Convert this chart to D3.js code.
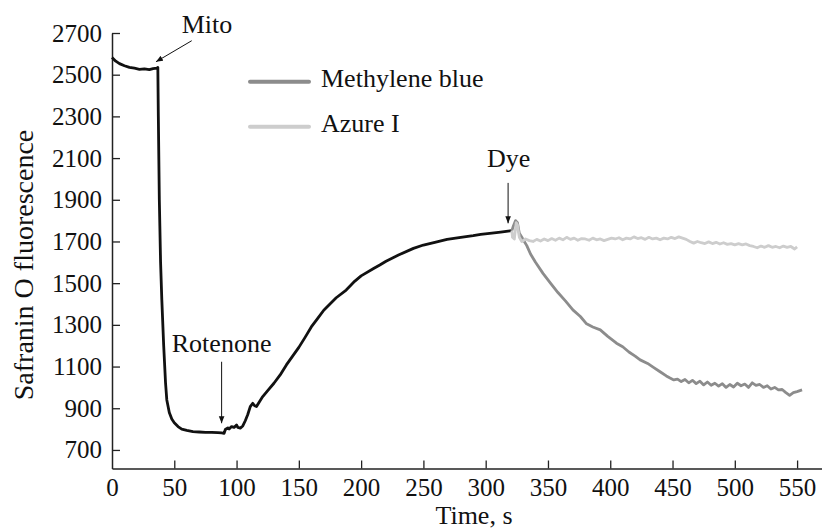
<!DOCTYPE html>
<html>
<head>
<meta charset="utf-8">
<title>Safranin O fluorescence</title>
<script src="https://cdn.jsdelivr.net/npm/d3@7"></script>
<style>
    body{margin:0;background:#fff;}
    svg{display:block;font-family:"Liberation Serif","Times New Roman",serif;}
</style>
</head>
<body>
<svg id="chart" width="822" height="531"></svg>
<script>
// control trace (before dye)
var ctrlTime = [0,3,6,10,14,18,22,26,30,33,36,36.8,37.2,38,39,40,41.5,43,44,46,48,50,53,56,60,65,70,75,80,85,88,90,91,93,94,96,98,100,101,103,105,107,109,111,113,114.5,116,118,121,125,130,135,140,145,150,155,160,165,170,175,180,188,195,200,210,215,220,230,242,250,260,269,280,290,296,305,312,318,321];
var ctrlValue = [2583,2565,2553,2543,2535,2531,2526,2528,2524,2529,2531,2535,2300,1900,1600,1420,1200,1020,940,880,848,830,812,800,794,788,786,784,784,783,782,780,798,806,800,812,808,820,808,805,815,840,870,908,924,912,908,928,956,985,1020,1060,1108,1150,1192,1240,1290,1330,1370,1400,1430,1467,1510,1535,1570,1587,1605,1635,1667,1683,1697,1710,1720,1728,1734,1740,1745,1750,1752];

// methylene blue
var mbTime = [321,322,324,325.5,327,329,331,333,336,340,346,352,358,364,370,376,381,386,392,398,405,410,415,420,424,430,435,440,445,448,451,454,457,460,463,466,469,472,475,478,481,484,487,490,493,496,499,502,505,508,511,514,517,520,523,526,529,532,535,538,541,544,547,550,554];
var mbValue = [1752,1770,1800,1790,1740,1720,1700,1680,1640,1600,1547,1500,1455,1415,1372,1340,1305,1290,1276,1245,1212,1195,1170,1150,1132,1115,1095,1075,1055,1045,1036,1040,1028,1038,1022,1034,1018,1030,1012,1026,1010,1020,1006,1018,1000,1014,1002,1020,1008,1016,1000,1022,1010,1014,1000,1008,992,1000,988,990,975,962,975,980,988];

// azure I
var azTime = [321,321.5,323,324.5,325.5,327,329,332,335,338,341,344,347,350,353,356,359,362,365,368,371,374,377,380,383,386,389,392,395,398,401,404,407,410,413,416,419,422,425,428,431,434,437,440,443,446,449,452,455,458,461,464,467,470,473,476,479,482,485,488,491,494,497,500,503,506,509,512,515,518,521,524,527,530,533,536,539,542,545,548,550];
var azValue = [1752,1720,1712,1790,1780,1720,1700,1712,1704,1700,1710,1702,1712,1704,1714,1706,1716,1708,1720,1710,1716,1706,1714,1712,1706,1716,1708,1712,1704,1710,1716,1712,1718,1708,1716,1712,1722,1714,1718,1710,1720,1712,1716,1708,1716,1712,1720,1714,1722,1716,1710,1700,1692,1700,1694,1690,1698,1690,1696,1688,1694,1686,1690,1684,1690,1684,1688,1680,1676,1670,1678,1672,1680,1672,1676,1670,1678,1672,1676,1664,1674];

var xTicks = [0,50,100,150,200,250,300,350,400,450,500,550];
var yTicks = [700,900,1100,1300,1500,1700,1900,2100,2300,2500,2700];
var legendNames = ["Methylene blue", "Azure I"];
var legendColors = ["#8c8c8c", "#cdcdcd"];

var svg = d3.select("#chart");
var mLeft = 112, mTop = 33, mRight = 822, mBottom = 468.5;

var x = d3.scaleLinear().domain([0, 570]).range([mLeft, mRight]);
var y = d3.scaleLinear().domain([611, 2700]).range([mBottom, mTop]);

// axes
var xAxis = d3.axisBottom(x).tickValues(xTicks).tickFormat(d3.format("d"))
    .tickSizeInner(-8).tickSizeOuter(0).tickPadding(10);
var yAxis = d3.axisLeft(y).tickValues(yTicks).tickFormat(d3.format("d"))
    .tickSizeInner(-8).tickSizeOuter(0).tickPadding(10);

var gx = svg.append("g").attr("transform", "translate(0," + mBottom + ")").call(xAxis);
var gy = svg.append("g").attr("transform", "translate(" + mLeft + ",0)").call(yAxis);
[gx, gy].forEach(function(g){
    g.select(".domain").attr("stroke", "#222").attr("stroke-width", 1.5);
    g.selectAll(".tick line").attr("stroke", "#222").attr("stroke-width", 1.3);
    g.selectAll(".tick text").attr("fill", "#111").style("font-size", "25px")
        .style("font-family", "'Liberation Serif', serif");
});
gx.selectAll(".tick").filter(function(d){ return d === 0; }).select("line").remove();

// axis titles
svg.append("text")
    .attr("x", 474).attr("y", 524)
    .attr("text-anchor", "middle")
    .style("font-size", "26px").attr("fill", "#111")
    .text("Time, s");
svg.append("text")
    .attr("transform", "translate(33,265) rotate(-90)")
    .attr("text-anchor", "middle")
    .style("font-size", "28px").attr("fill", "#111")
    .text("Safranin O fluorescence");

// lines
var line = d3.line()
    .x(function(d){ return x(d[0]); })
    .y(function(d){ return y(d[1]); });

function draw(times, values, color, w) {
    svg.append("path")
        .datum(d3.zip(times, values))
        .attr("fill", "none")
        .attr("stroke", color)
        .attr("stroke-width", w)
        .attr("stroke-linejoin", "round")
        .attr("d", line);
}
draw(ctrlTime, ctrlValue, "#111", 2.8);
draw(mbTime, mbValue, legendColors[0], 2.8);
draw(azTime, azValue, legendColors[1], 2.8);

// legend
legendNames.forEach(function(name, i){
    var ly = 81.7 + i * 45;
    svg.append("line")
        .attr("x1", 250).attr("x2", 309).attr("y1", ly).attr("y2", ly)
        .attr("stroke", legendColors[i]).attr("stroke-width", 4)
        .attr("stroke-linecap", "round");
    svg.append("text")
        .attr("x", 321).attr("y", ly + 5)
        .style("font-size", "26px").attr("fill", "#111")
        .text(name);
});

// arrow marker
svg.append("defs").append("marker")
    .attr("id", "arr")
    .attr("viewBox", "0 0 10 10")
    .attr("refX", 10).attr("refY", 5)
    .attr("markerWidth", 7).attr("markerHeight", 7)
    .attr("markerUnits", "userSpaceOnUse")
    .attr("orient", "auto")
    .append("path").attr("d", "M0,1 L10,5 L0,9 Z").attr("fill", "#111");

// annotations: [label, textTime, textValue, fromTime, fromValue, toTime, toValue]
var notes = [
    ["Mito", 56, 2700, 64, 2663, 35.3, 2562],
    ["Rotenone", 48, 1171, 88, 1123, 88, 828],
    ["Dye", 301, 2059, 318, 1981, 318, 1787]
];
notes.forEach(function(n){
    svg.append("text")
        .attr("x", x(n[1])).attr("y", y(n[2]))
        .style("font-size", "26px").attr("fill", "#111")
        .text(n[0]);
    svg.append("line")
        .attr("x1", x(n[3])).attr("y1", y(n[4]))
        .attr("x2", x(n[5])).attr("y2", y(n[6]))
        .attr("stroke", "#111").attr("stroke-width", 1)
        .attr("marker-end", "url(#arr)");
});
</script>
</body>
</html>
